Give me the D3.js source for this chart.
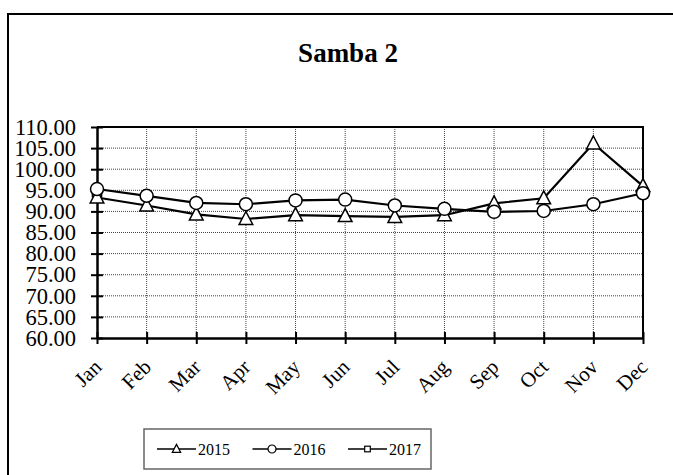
<!DOCTYPE html>
<html>
<head>
<meta charset="utf-8">
<script src="https://d3js.org/d3.v7.min.js"></script>
<style>
  body { margin: 0; background: #fff; }
  text { font-family: "Liberation Serif", "Times New Roman", serif; fill: #000; }
</style>
</head>
<body>
<svg id="chart" width="673" height="475"></svg>
<script>
// data
var months = ['Jan', 'Feb', 'Mar', 'Apr', 'May', 'Jun', 'Jul', 'Aug', 'Sep', 'Oct', 'Nov', 'Dec'];
var v2015 = [93.3, 91.4, 89.3, 88.2, 89.1, 88.9, 88.7, 89.1, 91.9, 93.1, 106.1, 96.0];
var v2016 = [95.3, 93.7, 92.0, 91.7, 92.6, 92.8, 91.4, 90.6, 89.9, 90.1, 91.7, 94.3];
var v2017 = [94.6, null, null, null, null, null, null, null, null, null, null, null];
var yTicks = [60, 65, 70, 75, 80, 85, 90, 95, 100, 105, 110];
var seriesNames = ['2015', '2016', '2017'];

var series = [
  { name: seriesNames[0], values: v2015, shape: 'triangle' },
  { name: seriesNames[1], values: v2016, shape: 'circle' },
  { name: seriesNames[2], values: v2017, shape: 'square' }
];

const svg = d3.select('#chart');

// outer chart border (runs off right and bottom)
svg.append('rect')
  .attr('x', 8).attr('y', 14)
  .attr('width', 700).attr('height', 500)
  .attr('fill', 'none')
  .attr('stroke', '#000')
  .attr('stroke-width', 2);

svg.append('text')
  .attr('x', 348).attr('y', 62)
  .attr('text-anchor', 'middle')
  .style('font-size', '27px')
  .style('font-weight', 'bold')
  .text('Samba 2');

var plot = { left: 97, right: 643, top: 127, bottom: 338 };

const x = d3.scalePoint()
  .domain(months)
  .range([plot.left, plot.right]);

const y = d3.scaleLinear()
  .domain([60, 110])
  .range([plot.bottom, plot.top]);

// grid
var grid = svg.append('g');
grid.selectAll('.hg')
  .data(yTicks.slice(1, -1))
  .enter().append('line')
  .attr('x1', plot.left).attr('x2', plot.right)
  .attr('y1', d => y(d)).attr('y2', d => y(d))
  .attr('stroke', '#444')
  .attr('stroke-width', 1)
  .attr('stroke-dasharray', '1,1');
grid.selectAll('.vg')
  .data(months.slice(1, -1))
  .enter().append('line')
  .attr('x1', d => x(d)).attr('x2', d => x(d))
  .attr('y1', plot.top).attr('y2', plot.bottom)
  .attr('stroke', '#444')
  .attr('stroke-width', 1)
  .attr('stroke-dasharray', '1,1');

// plot frame top/right
svg.append('path')
  .attr('d', `M${plot.left},${plot.top}H${plot.right}V${plot.bottom}`)
  .attr('fill', 'none')
  .attr('stroke', '#000')
  .attr('stroke-width', 2);

// y axis
const yAxis = d3.axisLeft(y)
  .tickValues(yTicks)
  .tickFormat(d3.format('.2f'))
  .tickSizeInner(6)
  .tickSizeOuter(0)
  .tickPadding(15);
const yAxisG = svg.append('g')
  .attr('transform', `translate(${plot.left},0)`)
  .call(yAxis);
yAxisG.select('.domain').attr('stroke', '#000').attr('stroke-width', 2.5);
yAxisG.selectAll('.tick line')
  .attr('x1', -6).attr('x2', 6)
  .attr('stroke-width', 2);
yAxisG.selectAll('.tick text')
  .style('font-size', '22.5px')
  .style('font-family', '"Liberation Serif", serif')
  .attr('fill', '#000');

// x axis
const xAxis = d3.axisBottom(x)
  .tickSizeInner(6)
  .tickSizeOuter(0)
  .tickPadding(10);
const xAxisG = svg.append('g')
  .attr('transform', `translate(0,${plot.bottom})`)
  .call(xAxis);
xAxisG.select('.domain').attr('stroke', '#000').attr('stroke-width', 2.5);
xAxisG.selectAll('.tick line')
  .attr('y1', -6).attr('y2', 6)
  .attr('stroke-width', 2);
xAxisG.selectAll('.tick text')
  .style('font-size', '21px')
  .style('font-family', '"Liberation Serif", serif')
  .attr('fill', '#000')
  .attr('text-anchor', 'end')
  .attr('dy', 0)
  .attr('transform', 'translate(-6,19) rotate(-45)');

// markers
function marker(sel, shape, s) {
  if (shape === 'circle') {
    sel.append('circle').attr('r', s);
  } else if (shape === 'triangle') {
    sel.append('path').attr('d', `M0,${-s * 1.15}L${s * 1.05},${s * 0.85}L${-s * 1.05},${s * 0.85}Z`);
  } else {
    sel.append('rect').attr('x', -s * 0.7).attr('y', -s * 0.7)
      .attr('width', s * 1.4).attr('height', s * 1.4);
  }
}

const line = d3.line()
  .defined(d => d.v != null)
  .x(d => x(d.m))
  .y(d => y(d.v));

series.forEach(s => {
  var pts = months.map((m, i) => ({ m: m, v: s.values[i] }));
  svg.append('path')
    .datum(pts)
    .attr('d', line)
    .attr('fill', 'none')
    .attr('stroke', '#000')
    .attr('stroke-width', 2.2);
});

// draw markers: square first, then triangles, circles on top
[series[2], series[0], series[1]].forEach(s => {
  var pts = months.map((m, i) => ({ m: m, v: s.values[i] })).filter(d => d.v != null);
  var g = svg.append('g').selectAll('g')
    .data(pts)
    .enter().append('g')
    .attr('transform', d => `translate(${x(d.m)},${y(d.v)})`)
    .attr('fill', '#fff')
    .attr('stroke', '#000')
    .attr('stroke-width', 1.5);
  g.each(function () { marker(d3.select(this), s.shape, 6.5); });
});

// legend
var lg = svg.append('g').attr('transform', 'translate(144,429)');
lg.append('rect')
  .attr('width', 287).attr('height', 40)
  .attr('fill', '#fff')
  .attr('stroke', '#666')
  .attr('stroke-width', 1.5);

var legendX = d3.scalePoint()
  .domain(seriesNames)
  .range([13, 204]);

var item = lg.selectAll('.item')
  .data(series)
  .enter().append('g')
  .attr('transform', d => `translate(${legendX(d.name)},20)`);
item.append('line')
  .attr('x1', 0).attr('x2', 39)
  .attr('stroke', '#000').attr('stroke-width', 1.5);
item.each(function (d) {
  var m = d3.select(this).append('g')
    .attr('transform', 'translate(19.5,0)')
    .attr('fill', '#fff').attr('stroke', '#000').attr('stroke-width', 1.2);
  marker(m, d.shape, 4);
});
item.append('text')
  .attr('x', 41).attr('y', 6)
  .style('font-size', '16px')
  .text(d => d.name);
</script>
</body>
</html>
